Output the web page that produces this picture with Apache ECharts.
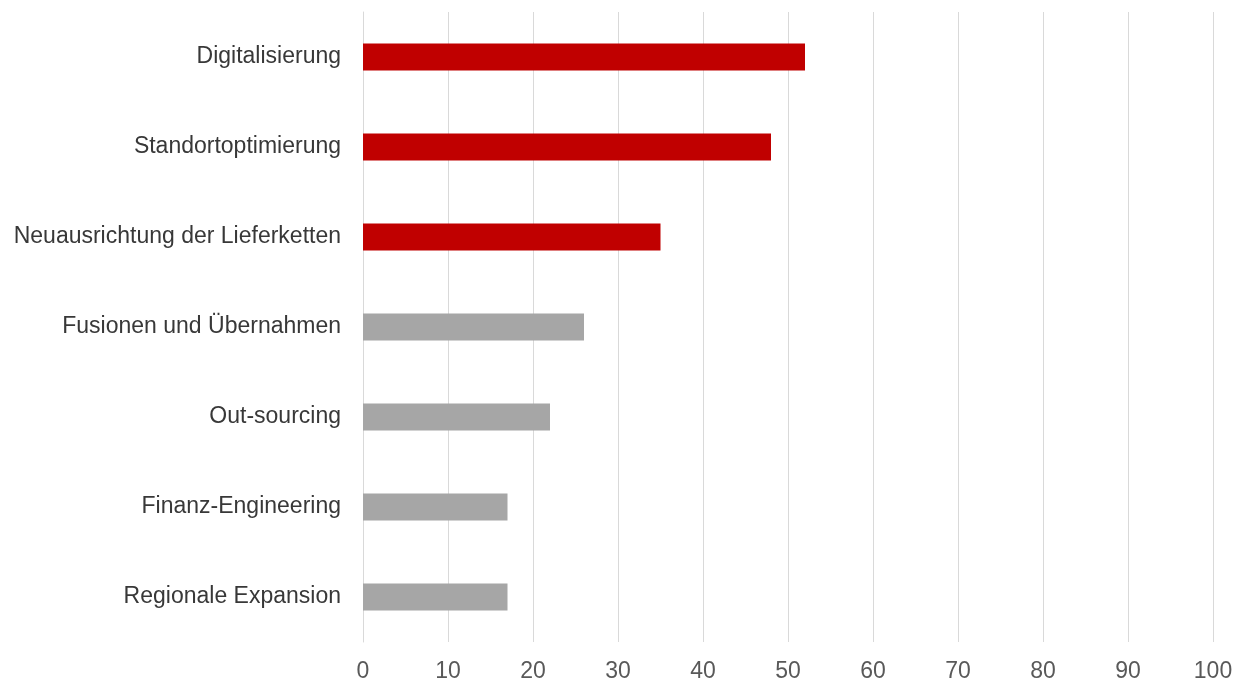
<!DOCTYPE html>
<html>
<head>
<meta charset="utf-8">
<script src="https://cdn.jsdelivr.net/npm/echarts@6/dist/echarts.min.js"></script>
<style>
  html, body { margin: 0; padding: 0; background: #fff; }
  #chart { width: 1241px; height: 684px; }
</style>
</head>
<body>
<div id="chart"></div>
<script>
// categories from top to bottom
const categories = [
  'Digitalisierung',
  'Standortoptimierung',
  'Neuausrichtung der Lieferketten',
  'Fusionen und Übernahmen',
  'Out-sourcing',
  'Finanz-Engineering',
  'Regionale Expansion'
]
const values = [52, 48, 35, 26, 22, 17, 17]
const highlighted = [true, true, true, false, false, false, false]

const red = '#c00000'
const grey = '#a6a6a6'

const chart = echarts.init(document.getElementById('chart'))

chart.setOption({
  animation: false,
  textStyle: { fontFamily: 'Liberation Sans, Arial, sans-serif' },
  grid: { left: 363, right: 28, top: 12, bottom: 42, containLabel: false },
  xAxis: {
    type: 'value',
    min: 0,
    max: 100,
    interval: 10,
    axisLine: { show: false },
    axisTick: { show: false },
    axisLabel: { color: '#595959', fontSize: 23, margin: 18 },
    splitLine: { lineStyle: { color: '#d9d9d9', width: 1 } }
  },
  yAxis: {
    type: 'category',
    inverse: true,
    data: categories,
    axisLine: { lineStyle: { color: '#d9d9d9' } },
    axisTick: { length: 6, lineStyle: { color: '#d9d9d9' } },
    axisLabel: { color: '#383838', fontSize: 23, margin: 22, padding: [6, 0, 0, 0] }
  },
  series: [{
    type: 'bar',
    barWidth: 27,
    data: values.map((v, i) => ({
      value: v,
      itemStyle: { color: highlighted[i] ? red : grey }
    }))
  }]
})
</script>
</body>
</html>
